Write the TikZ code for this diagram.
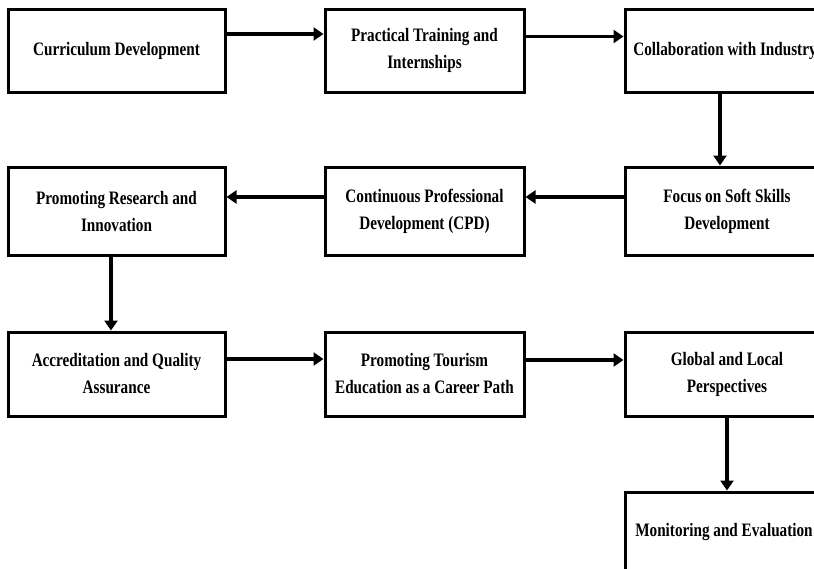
\documentclass[tikz,border=0pt]{standalone}
\usepackage{fontspec}
\setmainfont{Liberation Serif}[FakeStretch=0.8]
\usetikzlibrary{arrows.meta}
\begin{document}
\begin{tikzpicture}[x=1pt,y=-1pt,
  box/.style={draw, line width=3pt, inner sep=0pt, align=center,
    font=\fontsize{19}{27}\selectfont\bfseries},
  arr/.style={line width=3.8pt, -{Triangle[length=10pt,width=13pt]}}]
\clip (0,0) rectangle (814,568);
% row 1
\node[box, minimum width=217, minimum height=83] (b1) at (116.5,50.5) {Curriculum Development};
\node[box, minimum width=199, minimum height=83] (b2) at (424.5,50.5) {Practical Training and\\Internships};
\node[box, minimum width=204, minimum height=83] (b3) at (727,50.5) {Collaboration with Industry\hspace*{4pt}};
% row 2
\node[box, minimum width=217, minimum height=88] (b4) at (116.5,211) {Promoting Research and\\Innovation};
\node[box, minimum width=199, minimum height=88] (b5) at (424.5,211) {Continuous Professional\\Development (CPD)};
\node[box, minimum width=204, minimum height=88] (b6) at (727,211) {Focus on Soft Skills\\Development};
% row 3
\node[box, minimum width=217, minimum height=84] (b7) at (116.5,374) {Accreditation and Quality\\Assurance};
\node[box, minimum width=199, minimum height=84] (b8) at (424.5,374) {Promoting Tourism\\Education as a Career Path};
\node[box, minimum width=204, minimum height=84] (b9) at (727,374) {Global and Local\\Perspectives};
% row 4
\node[box, minimum width=204, minimum height=80] (b10) at (727,532) {Monitoring and Evaluation\hspace*{6pt}};
% connectors
\draw[arr] ([yshift=16.5pt]b1.east) -- ([yshift=16.5pt]b2.west);
\draw[arr] ([yshift=14pt]b2.east) -- ([yshift=14pt]b3.west);
\draw[arr] ([xshift=-7pt]b3.south) -- ([xshift=-7pt]b6.north);
\draw[arr] ([yshift=14pt]b6.west) -- ([yshift=14pt]b5.east);
\draw[arr] ([yshift=14pt]b5.west) -- ([yshift=14pt]b4.east);
\draw[arr] ([xshift=-5.5pt]b4.south) -- ([xshift=-5.5pt]b7.north);
\draw[arr] ([yshift=15pt]b7.east) -- ([yshift=15pt]b8.west);
\draw[arr] ([yshift=14pt]b8.east) -- ([yshift=14pt]b9.west);
\draw[arr] (b9.south) -- (b10.north);
\end{tikzpicture}
\end{document}
